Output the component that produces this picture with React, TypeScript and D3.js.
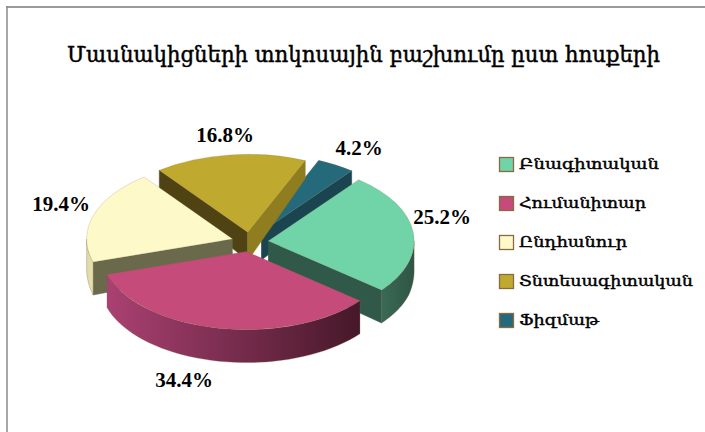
import React from "react";
import * as d3 from "d3";

const title = "Մասնակիցների տոկոսային բաշխումը ըստ հոսքերի";
const categories = ["Բնագիտական", "Հումանիտար", "Ընդհանուր", "Տնտեսագիտական", "Ֆիզմաթ"];
const values = [25.2, 34.4, 19.4, 16.8, 4.2];
const labels = ["25.2%", "34.4%", "19.4%", "16.8%", "4.2%"];

const topColors = ["#70d4a8", "#c54b7a", "#fdf9c9", "#bfa92f", "#256a7a"];
const radialWall = ["#31594a", "#4a1a2e", "#6a694c", "#4f4314", "#1a4550"];
const endWall = ["#31594a", "#4a1a2e", "#6a694c", "#8f7d20", "#1a4550"];
const wallStops: [string, string][] = [
  ["#3a6a55", "#2f5545"],
  ["#aa4172", "#461829"],
  ["#dcd9a4", "#e6e3ae"],
  ["#4f4314", "#4f4314"],
  ["#1a4550", "#1a4550"],
];
const labelCenters: [number, number][] = [
  [442, 217],
  [184, 380],
  [61, 204],
  [225, 135],
  [359, 148],
];
const legendWidths = [140, 127, 108, 174, 80];
const explodes = [0.125, 0.125, 0.125, 0.125, 0.15];

const W = 705;
const H = 432;
const cx = 250;
const cy = 242;
const rx = 146;
const ry = 78;
const startDeg = 38.3;

// the reference is drawn in perspective: the wall is shorter towards the back
const depthAt = d3.scaleLinear().domain([165, 262]).range([18, 33]).clamp(true);

const pie = d3
  .pie<number>()
  .sort(null)
  .startAngle((startDeg * Math.PI) / 180)
  .endAngle((startDeg * Math.PI) / 180 + 2 * Math.PI);

// d3 pie angles: 0 at 12 o'clock, clockwise
const px = (a: number) => Math.sin(a);
const py = (a: number) => -Math.cos(a);

const arcGen = d3.arc<d3.PieArcDatum<number>>().innerRadius(0).outerRadius(rx);
const line = d3.line();

function sampleAngles(a0: number, a1: number): number[] {
  return d3.range(0, 41).map((i) => a0 + ((a1 - a0) * i) / 40);
}

export default function App() {
  const arcs = pie(values);
  const parts = arcs.map((d, i) => {
    const mid = (d.startAngle + d.endAngle) / 2;
    const ox = cx + explodes[i] * rx * px(mid);
    const oy = cy + explodes[i] * ry * py(mid);
    const pt = (a: number): [number, number] => [ox + rx * px(a), oy + ry * py(a)];
    const shift = (p: [number, number]): [number, number] => [p[0], p[1] + depthAt(p[1])];
    const walls: React.ReactNode[] = [];
    const apex: [number, number] = [ox, oy];
    // start edge shows when it points left on screen; end edge when it points right
    if (px(d.startAngle) < 0) {
      const p = pt(d.startAngle);
      walls.push(
        <path key="s" d={line([apex, p, shift(p), shift(apex)])!} fill={radialWall[i]} stroke={radialWall[i]} strokeWidth={0.5} />
      );
    }
    if (px(d.endAngle) > 0) {
      const p = pt(d.endAngle);
      walls.push(
        <path key="e" d={line([apex, p, shift(p), shift(apex)])!} fill={endWall[i]} stroke={endWall[i]} strokeWidth={0.5} />
      );
    }
    // outer curved wall: only its front half can be seen
    const lo = Math.max(d.startAngle, Math.PI / 2);
    const hi = Math.min(d.endAngle, (3 * Math.PI) / 2);
    if (hi > lo) {
      const top = sampleAngles(lo, hi).map(pt);
      const bottom = top.map(shift).reverse();
      walls.push(
        <path key="o" d={line([...top, ...bottom])! + "Z"} fill={`url(#wall${i})`} stroke="#7a5a40" strokeOpacity={0.5} strokeWidth={0.6} />
      );
    }
    return { d, i, ox, oy, mid, walls };
  });
  // painter's order: back slices first
  const order = [4, 3, 2, 0, 1];

  return (
    <svg
      width={W}
      height={H}
      style={{ position: "absolute", left: 0, top: 0, background: "#fff" }}
      viewBox={`0 0 ${W} ${H}`}
    >
      <defs>
        {wallStops.map((s, i) => (
          <linearGradient key={i} id={`wall${i}`} gradientUnits="objectBoundingBox" x1="0" x2="1" y1="0" y2="0">
            <stop offset="0" stopColor={s[0]} />
            <stop offset="1" stopColor={s[1]} />
          </linearGradient>
        ))}
      </defs>
      <rect x={0} y={0} width={W} height={H} fill="#fff" />
      <line x1={6.5} x2={W} y1={7} y2={7} stroke="#9a9a9a" strokeWidth={2} />
      <line x1={7} x2={7} y1={6} y2={H} stroke="#8a8a8a" strokeWidth={1.5} />

      <text
        x={363.5}
        y={62}
        textAnchor="middle"
        fontFamily="'DejaVu Serif', serif"
        fontSize={22}
        fill="#000"
        stroke="#000"
        strokeWidth={0.45}
        textLength={593}
        lengthAdjust="spacingAndGlyphs"
      >
        {title}
      </text>

      {order.map((i) => {
        const p = parts[i];
        return (
          <g key={i}>
            {p.walls}
            <path
              d={arcGen(p.d)!}
              transform={`translate(${p.ox},${p.oy}) scale(1,${ry / rx})`}
              fill={topColors[i]}
              stroke="#8a6a40"
              strokeOpacity={0.45}
              strokeWidth={0.6}
            />
          </g>
        );
      })}

      {labels.map((t, i) => (
        <text
          key={t}
          x={labelCenters[i][0]}
          y={labelCenters[i][1]}
          dy="0.35em"
          textAnchor="middle"
          fontFamily="'Liberation Serif', serif"
          fontWeight="bold"
          fontSize={21}
          fill="#000"
        >
          {t}
        </text>
      ))}

      {categories.map((c, i) => {
        const y = d3.scaleLinear().domain([0, 1]).range([164.5, 203.5])(i);
        return (
          <g key={c}>
            <rect x={499.5} y={y - 7} width={14} height={14} fill={topColors[i]} stroke="#8a6a40" strokeWidth={1.3} />
            <text
              x={519}
              y={y}
              dy="0.35em"
              fontFamily="'DejaVu Serif', serif"
              fontSize={14}
              fill="#000"
              stroke="#000"
              strokeWidth={0.4}
              textLength={legendWidths[i]}
              lengthAdjust="spacingAndGlyphs"
            >
              {c}
            </text>
          </g>
        );
      })}
    </svg>
  );
}
